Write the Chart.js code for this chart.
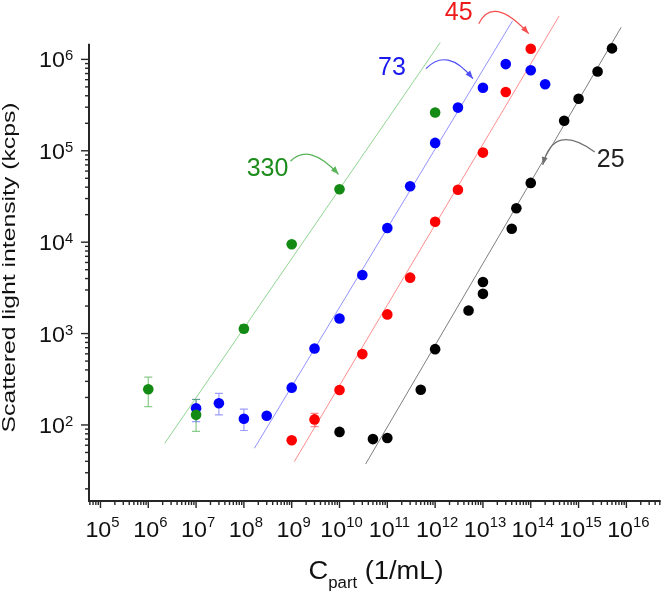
<!DOCTYPE html>
<html>
<head>
<meta charset="utf-8">
<script src="https://cdn.jsdelivr.net/npm/chart.js@4.4.1/dist/chart.umd.min.js"></script>
<style>
  html, body { margin: 0; padding: 0; background: #ffffff; }
  #wrap { position: relative; width: 666px; height: 594px; }
</style>
</head>
<body>
<div id="wrap"><canvas id="chart"></canvas></div>
<script>
// Scattered light intensity vs particle concentration, four particle sizes

// measured points
const greenX = [1e6, 1e7, 1e8, 1e9, 1e10, 1e12];
const greenY = [246, 129, 1130, 9500, 37900, 262000];
const greenLo = [159, 85, 1030, null, null, null];
const greenHi = [333, 190, 1250, null, null, null];

const blueX = [1e7, 3e7, 1e8, 3e8, 1e9, 3e9, 1e10, 3e10, 1e11, 3e11, 1e12, 3e12, 1e13, 3e13, 1e14, 2e14];
const blueY = [152, 173, 117, 126, 256, 687, 1460, 4380, 14300, 41000, 122000, 297000, 490000, 888000, 762000, 535000];
const blueLo = [109, 129, 87, null, null, null, null, null, null, null, null, null, null, null, null, null];
const blueHi = [191, 222, 149, null, null, null, null, null, null, null, null, null, null, null, null, null];

const redX = [1e9, 3e9, 1e10, 3e10, 1e11, 3e11, 1e12, 3e12, 1e13, 3e13, 1e14];
const redY = [68, 115, 241, 596, 1620, 4090, 16700, 37400, 95500, 440000, 1310000];
const redLo = [null, 96, null, null, null, null, null, null, null, null, null];
const redHi = [null, 134, null, null, null, null, null, null, null, null, null];

const blackX = [1e10, 5e10, 1e11, 5e11, 1e12, 5e12, 1e13, 1e13, 4e13, 5e13, 1e14, 5e14, 1e15, 2.5e15, 5e15];
const blackY = [84, 70, 72, 243, 675, 1790, 2720, 3660, 14000, 23500, 44500, 213000, 371000, 738000, 1320000];

// fitted lines (end points)
const greenFitX = [2.21e6, 1.28e12];
const greenFitY = [63, 1.53e6];
const blueFitX = [1.66e8, 4.17e13];
const blueFitY = [55.6, 2.65e6];
const redFitX = [1.13e9, 3.93e14];
const redFitY = [39.6, 2.99e6];
const blackFitX = [3.52e10, 7.8e15];
const blackFitY = [37.4, 2.25e6];

// size callouts (nm) and the point each arrow points to
const calloutText = ['330', '73', '45', '25'];
const calloutX = [1e10, 1e13, 1e14, 1e14];
const calloutY = [37900, 490000, 1310000, 44500];

// tick label exponents
const xTickExp = [5, 6, 7, 8, 9, 10, 11, 12, 13, 14, 15, 16];
const yTickExp = [2, 3, 4, 5, 6];

const X_MIN = Math.pow(10, 4.76);
const X_MAX = Math.pow(10, 16.718);
const Y_MIN = Math.pow(10, 1.168);
const Y_MAX = Math.pow(10, 6.5);
const Y_AXIS_TOP = Math.pow(10, 6.17);

const FONT = 'Arial, "Liberation Sans", Helvetica, sans-serif';
const AXIS_COLOR = '#262626';

const calloutColor = ['#1c8c1c', '#1a1aee', '#ee1a1a', '#222222'];
const calloutArc = ['#58b458', '#4f4ff5', '#f55050', '#707070'];
// pixel offsets from the target point: text centre, arc start, control, arrow tip
const calloutLayout = [
  { text: [-72, -22], from: [-49, -28], ctrl: [-30, -47], tip: [-1, -15] },
  { text: [-91, -22], from: [-57, -19], ctrl: [-36, -41], tip: [-10, -9] },
  { text: [-72, -38], from: [-52, -25], ctrl: [-38, -54], tip: [-2, -15] },
  { text: [80, -25], from: [64, -31], ctrl: [23, -61], tip: [12, -18] }
];

function pts(xv, yv) {
  return xv.map(function (x, i) { return { x: x, y: yv[i] }; });
}

function logTicks(lo, hi) {
  var out = [];
  var e0 = Math.floor(Math.log10(lo));
  var e1 = Math.ceil(Math.log10(hi));
  for (var e = e0; e <= e1; e++) {
    for (var m = 1; m <= 9; m++) {
      var v = m * Math.pow(10, e);
      if (v >= lo && v <= hi * 1.0001) out.push({ value: v, major: m === 1 });
    }
  }
  return out;
}

// text stretched horizontally (the original lettering is wide)
function wideText(ctx, str, x, y, sx) {
  ctx.save();
  ctx.translate(x, y);
  ctx.scale(sx, 1);
  ctx.fillText(str, 0, 0);
  ctx.restore();
}

function powLabel(ctx, exp, size, supSize, sx) {
  ctx.font = size + 'px ' + FONT;
  var wb = ctx.measureText('10').width * sx;
  ctx.font = supSize + 'px ' + FONT;
  var we = ctx.measureText(String(exp)).width * sx;
  return { wb: wb, we: we };
}

const errorBars = {
  id: 'errorBars',
  beforeDatasetsDraw: function (chart) {
    var ctx = chart.ctx;
    var xs = chart.scales.x, ys = chart.scales.y;
    var sets = [
      [blueX, blueLo, blueHi, 'rgba(60, 60, 255, 0.5)'],
      [redX, redLo, redHi, 'rgba(255, 40, 40, 0.55)'],
      [greenX, greenLo, greenHi, 'rgba(40, 160, 40, 0.55)']
    ];
    ctx.save();
    ctx.lineWidth = 1.2;
    sets.forEach(function (s) {
      ctx.strokeStyle = s[3];
      for (var i = 0; i < s[0].length; i++) {
        if (s[1][i] == null) continue;
        var px = xs.getPixelForValue(s[0][i]);
        var y0 = ys.getPixelForValue(s[1][i]);
        var y1 = ys.getPixelForValue(s[2][i]);
        ctx.beginPath();
        ctx.moveTo(px, y0); ctx.lineTo(px, y1);
        ctx.moveTo(px - 4, y0); ctx.lineTo(px + 4, y0);
        ctx.moveTo(px - 4, y1); ctx.lineTo(px + 4, y1);
        ctx.stroke();
      }
    });
    ctx.restore();
  }
};

const callouts = {
  id: 'callouts',
  afterDatasetsDraw: function (chart) {
    var ctx = chart.ctx;
    var xs = chart.scales.x, ys = chart.scales.y;
    ctx.save();
    for (var i = 0; i < calloutText.length; i++) {
      var px = xs.getPixelForValue(calloutX[i]);
      var py = ys.getPixelForValue(calloutY[i]);
      var L = calloutLayout[i];
      var sx = px + L.from[0], sy = py + L.from[1];
      var cx = px + L.ctrl[0], cy = py + L.ctrl[1];
      var tx = px + L.tip[0], ty = py + L.tip[1];

      ctx.strokeStyle = calloutArc[i];
      ctx.fillStyle = calloutArc[i];
      ctx.lineWidth = 1.2;
      ctx.beginPath();
      ctx.moveTo(sx, sy);
      ctx.quadraticCurveTo(cx, cy, tx, ty);
      ctx.stroke();

      // arrow head
      var a = Math.atan2(ty - cy, tx - cx);
      ctx.beginPath();
      ctx.moveTo(tx, ty);
      ctx.lineTo(tx - 8 * Math.cos(a) + 3 * Math.sin(a), ty - 8 * Math.sin(a) - 3 * Math.cos(a));
      ctx.lineTo(tx - 8 * Math.cos(a) - 3 * Math.sin(a), ty - 8 * Math.sin(a) + 3 * Math.cos(a));
      ctx.closePath();
      ctx.fill();

      ctx.fillStyle = calloutColor[i];
      ctx.font = '25px ' + FONT;
      ctx.textAlign = 'center';
      ctx.textBaseline = 'alphabetic';
      ctx.fillText(calloutText[i], px + L.text[0], py + L.text[1] + 9);
    }
    ctx.restore();
  }
};

const logAxes = {
  id: 'logAxes',
  afterDraw: function (chart) {
    var ctx = chart.ctx;
    var area = chart.chartArea;
    var xs = chart.scales.x, ys = chart.scales.y;
    var yTop = ys.getPixelForValue(Y_AXIS_TOP);

    ctx.save();
    ctx.strokeStyle = AXIS_COLOR;
    ctx.lineWidth = 2;
    ctx.beginPath();
    ctx.moveTo(area.left, yTop);
    ctx.lineTo(area.left, area.bottom);
    ctx.lineTo(area.right, area.bottom);
    ctx.stroke();

    ctx.lineWidth = 1.4;
    logTicks(X_MIN, X_MAX).forEach(function (t) {
      var px = xs.getPixelForValue(t.value);
      ctx.beginPath();
      ctx.moveTo(px, area.bottom);
      ctx.lineTo(px, area.bottom + (t.major ? 7 : 4));
      ctx.stroke();
    });
    logTicks(Y_MIN, Y_AXIS_TOP).forEach(function (t) {
      var py = ys.getPixelForValue(t.value);
      ctx.beginPath();
      ctx.moveTo(area.left, py);
      ctx.lineTo(area.left - (t.major ? 8 : 4), py);
      ctx.stroke();
    });

    // tick labels: 10 with raised exponent
    ctx.fillStyle = '#111111';
    ctx.textAlign = 'left';
    ctx.textBaseline = 'alphabetic';
    var sx = 1.06;
    xTickExp.forEach(function (e) {
      var px = xs.getPixelForValue(Math.pow(10, e));
      var m = powLabel(ctx, e, 22, 14, sx);
      var x0 = px + 2 - (m.wb + m.we) / 2;
      ctx.font = '22px ' + FONT;
      wideText(ctx, '10', x0, area.bottom + 36, sx);
      ctx.font = '14px ' + FONT;
      wideText(ctx, String(e), x0 + m.wb, area.bottom + 26, sx);
    });
    yTickExp.forEach(function (e) {
      var py = ys.getPixelForValue(Math.pow(10, e));
      var m = powLabel(ctx, e, 22, 14, sx);
      var x0 = area.left - 24 - m.wb;
      ctx.font = '22px ' + FONT;
      wideText(ctx, '10', x0, py + 8, sx);
      ctx.font = '14px ' + FONT;
      wideText(ctx, String(e), x0 + m.wb, py + 1, sx);
    });

    // y axis title
    var ytitle = 'Scattered light intensity (kcps)';
    ctx.font = '19px ' + FONT;
    var ysx = 330 / ctx.measureText(ytitle).width;
    ctx.save();
    ctx.translate(14.5, (ys.getPixelForValue(Y_MIN) + yTop) / 2 - 5);
    ctx.rotate(-Math.PI / 2);
    ctx.scale(ysx, 1);
    ctx.textAlign = 'center';
    ctx.fillText(ytitle, 0, 0);
    ctx.restore();

    // x axis title with subscript
    var tx = 308.5, tsx = 1.05;
    ctx.textAlign = 'left';
    ctx.font = '26px ' + FONT;
    wideText(ctx, 'C', tx, 579, tsx);
    tx += ctx.measureText('C').width * tsx;
    ctx.font = '16px ' + FONT;
    wideText(ctx, 'part', tx, 588, tsx);
    tx += ctx.measureText('part').width * tsx;
    ctx.font = '26px ' + FONT;
    wideText(ctx, ' (1/mL)', tx, 579, tsx);
    ctx.restore();
  }
};

const fitLine = function (xv, yv, color) {
  return {
    data: pts(xv, yv),
    showLine: true,
    borderColor: color,
    borderWidth: 1,
    pointRadius: 0,
    order: 2
  };
};
const dots = function (xv, yv, color) {
  return {
    data: pts(xv, yv),
    backgroundColor: color,
    pointBackgroundColor: color,
    pointBorderWidth: 0,
    pointRadius: 5.3,
    pointHoverRadius: 5.3,
    order: 1
  };
};

new Chart(document.getElementById('chart').getContext('2d'), {
  type: 'scatter',
  data: {
    datasets: [
      dots(greenX, greenY, '#138a13'),
      dots(redX, redY, '#ff0000'),
      dots(blueX, blueY, '#0000ff'),
      dots(blackX, blackY, '#000000'),
      fitLine(greenFitX, greenFitY, 'rgba(40, 170, 40, 0.5)'),
      fitLine(blueFitX, blueFitY, 'rgba(40, 40, 255, 0.5)'),
      fitLine(redFitX, redFitY, 'rgba(255, 30, 30, 0.5)'),
      fitLine(blackFitX, blackFitY, 'rgba(0, 0, 0, 0.5)')
    ]
  },
  options: {
    responsive: true,
    maintainAspectRatio: false,
    animation: false,
    layout: { padding: { left: 89, right: 3, top: 13.7, bottom: 93 } },
    plugins: {
      legend: { display: false },
      tooltip: { enabled: false }
    },
    scales: {
      x: { type: 'logarithmic', display: false, min: X_MIN, max: X_MAX },
      y: { type: 'logarithmic', display: false, min: Y_MIN, max: Y_MAX }
    }
  },
  plugins: [errorBars, callouts, logAxes]
});
</script>
</body>
</html>
